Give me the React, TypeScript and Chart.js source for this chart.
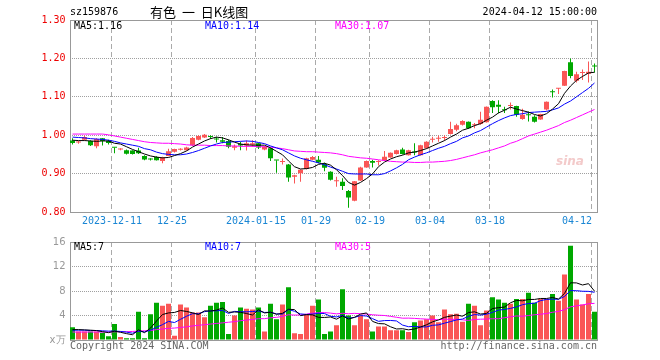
import React, { useEffect, useRef } from 'react';
import { Chart, registerables } from 'chart.js';

Chart.register(...registerables);

// ---------- data ----------
const dates = [
  '2023-11-30','2023-12-01','2023-12-04','2023-12-05','2023-12-06','2023-12-07','2023-12-08',
  '2023-12-11','2023-12-12','2023-12-13','2023-12-14','2023-12-15',
  '2023-12-18','2023-12-19','2023-12-20','2023-12-21','2023-12-22',
  '2023-12-25','2023-12-26','2023-12-27','2023-12-28','2023-12-29',
  '2024-01-02','2024-01-03','2024-01-04','2024-01-05',
  '2024-01-08','2024-01-09','2024-01-10','2024-01-11','2024-01-12',
  '2024-01-15','2024-01-16','2024-01-17','2024-01-18','2024-01-19',
  '2024-01-22','2024-01-23','2024-01-24','2024-01-25','2024-01-26',
  '2024-01-29','2024-01-30','2024-01-31','2024-02-01','2024-02-02',
  '2024-02-05','2024-02-06','2024-02-07','2024-02-08',
  '2024-02-19','2024-02-20','2024-02-21','2024-02-22','2024-02-23',
  '2024-02-26','2024-02-27','2024-02-28','2024-02-29','2024-03-01',
  '2024-03-04','2024-03-05','2024-03-06','2024-03-07','2024-03-08',
  '2024-03-11','2024-03-12','2024-03-13','2024-03-14','2024-03-15',
  '2024-03-18','2024-03-19','2024-03-20','2024-03-21','2024-03-22',
  '2024-03-25','2024-03-26','2024-03-27','2024-03-28','2024-03-29',
  '2024-04-01','2024-04-02','2024-04-03',
  '2024-04-08','2024-04-09','2024-04-10','2024-04-11','2024-04-12',
];

const opens = [
  0.986,0.981,0.988,0.985,0.971,0.992,0.985,0.968,0.963,0.961,
  0.960,0.960,0.946,0.938,0.943,0.933,0.946,0.957,0.962,0.961,
  0.974,0.988,0.994,0.996,0.990,0.987,0.985,0.967,0.977,0.973,
  0.975,0.979,0.963,0.966,0.935,0.930,0.924,0.892,0.901,0.912,
  0.936,0.936,0.925,0.905,0.880,0.879,0.855,0.829,0.882,0.916,
  0.933,0.930,0.934,0.942,0.951,0.963,0.948,0.956,0.948,0.966,
  0.988,0.991,0.993,1.003,1.014,1.027,1.035,1.026,1.029,1.034,
  1.089,1.079,1.066,1.076,1.076,1.042,1.054,1.048,1.041,1.067,
  1.114,1.121,1.129,1.190,1.142,1.162,1.160,1.181,
];
const highs = [
  0.992,0.985,0.999,0.987,0.992,0.993,0.988,0.968,0.966,0.963,
  0.961,0.967,0.948,0.940,0.945,0.944,0.965,0.965,0.966,0.970,
  0.995,1.000,1.003,1.000,0.996,0.995,0.988,0.976,0.983,0.986,
  0.987,0.980,0.972,0.968,0.935,0.939,0.925,0.897,0.911,0.941,
  0.946,0.946,0.928,0.906,0.892,0.888,0.857,0.881,0.918,0.934,
  0.936,0.935,0.959,0.955,0.962,0.967,0.962,0.979,0.975,0.984,
  0.996,0.999,1.000,1.035,1.030,1.039,1.036,1.032,1.061,1.075,
  1.091,1.091,1.074,1.085,1.077,1.069,1.062,1.052,1.056,1.088,
  1.119,1.123,1.168,1.200,1.165,1.171,1.192,1.187,
];
const lows = [
  0.976,0.978,0.986,0.972,0.966,0.973,0.976,0.953,0.961,0.950,
  0.950,0.951,0.935,0.934,0.934,0.927,0.945,0.955,0.960,0.960,
  0.972,0.987,0.993,0.990,0.981,0.979,0.966,0.961,0.961,0.960,
  0.970,0.964,0.961,0.933,0.902,0.924,0.879,0.874,0.879,0.911,
  0.935,0.927,0.906,0.882,0.866,0.857,0.811,0.828,0.881,0.915,
  0.916,0.921,0.933,0.941,0.950,0.950,0.947,0.948,0.947,0.965,
  0.981,0.983,0.986,1.002,1.010,1.025,1.016,1.018,1.027,1.033,
  1.058,1.057,1.058,1.067,1.048,1.040,1.036,1.033,1.040,1.064,
  1.098,1.107,1.128,1.148,1.137,1.144,1.137,1.163,
];
const closes = [
  0.980,0.982,0.995,0.974,0.990,0.985,0.980,0.967,0.964,0.952,
  0.951,0.953,0.937,0.937,0.935,0.942,0.958,0.964,0.963,0.968,
  0.993,0.998,1.001,0.995,0.989,0.983,0.970,0.971,0.973,0.979,
  0.979,0.968,0.970,0.940,0.934,0.931,0.890,0.896,0.910,0.940,
  0.943,0.929,0.915,0.884,0.881,0.868,0.838,0.880,0.916,0.933,
  0.928,0.931,0.944,0.954,0.961,0.951,0.961,0.955,0.974,0.983,
  0.989,0.992,0.994,1.016,1.026,1.037,1.018,1.028,1.040,1.074,
  1.073,1.074,1.065,1.077,1.053,1.053,1.052,1.035,1.055,1.087,
  1.112,1.122,1.167,1.154,1.159,1.163,1.165,1.179,
];

const ma5 = [
  0.987,0.986,0.986,0.985,0.984,0.985,0.985,0.979,0.977,0.970,
  0.963,0.957,0.951,0.946,0.943,0.941,0.942,0.947,0.952,0.959,
  0.969,0.977,0.985,0.991,0.995,0.993,0.988,0.982,0.977,0.975,
  0.974,0.974,0.974,0.967,0.958,0.949,0.933,0.918,0.912,0.913,
  0.916,0.924,0.927,0.922,0.910,0.895,0.877,0.870,0.877,0.887,
  0.899,0.918,0.930,0.938,0.944,0.948,0.954,0.956,0.960,0.965,
  0.972,0.979,0.986,0.995,1.003,1.013,1.018,1.025,1.030,1.039,
  1.047,1.058,1.065,1.073,1.068,1.064,1.060,1.054,1.050,1.056,
  1.068,1.082,1.109,1.128,1.143,1.153,1.162,1.164,
];
const ma10 = [
  0.995,0.994,0.993,0.991,0.990,0.989,0.987,0.984,0.980,0.977,
  0.974,0.971,0.965,0.962,0.956,0.952,0.950,0.949,0.949,0.951,
  0.955,0.960,0.966,0.972,0.977,0.981,0.982,0.983,0.984,0.985,
  0.984,0.981,0.978,0.972,0.967,0.962,0.954,0.946,0.940,0.936,
  0.932,0.928,0.923,0.917,0.912,0.906,0.900,0.899,0.899,0.899,
  0.897,0.897,0.900,0.907,0.915,0.924,0.936,0.943,0.949,0.954,
  0.960,0.966,0.971,0.978,0.984,0.993,0.998,1.006,1.012,1.021,
  1.030,1.038,1.045,1.051,1.054,1.056,1.059,1.060,1.061,1.062,
  1.066,1.071,1.081,1.089,1.100,1.111,1.122,1.136,
];
const ma30 = [
  1.003,1.003,1.003,1.003,1.003,1.003,1.001,0.998,0.995,0.992,
  0.989,0.986,0.983,0.981,0.980,0.979,0.979,0.978,0.977,0.975,
  0.974,0.974,0.974,0.973,0.973,0.973,0.972,0.972,0.971,0.971,
  0.971,0.970,0.970,0.969,0.967,0.965,0.962,0.959,0.958,0.957,
  0.957,0.956,0.955,0.954,0.952,0.949,0.945,0.943,0.941,0.940,
  0.938,0.936,0.934,0.932,0.931,0.930,0.930,0.929,0.929,0.930,
  0.930,0.931,0.932,0.934,0.937,0.941,0.945,0.949,0.954,0.958,
  0.962,0.967,0.972,0.979,0.984,0.991,0.998,1.003,1.008,1.013,
  1.019,1.025,1.033,1.039,1.046,1.053,1.060,1.067,
];

// volume in 万
const volumes = [
  2.1,1.4,1.4,1.4,1.4,1.2,0.6,2.6,0.5,0.3,
  0.3,4.6,0.3,4.2,6.1,5.6,5.9,0.7,5.8,5.3,
  4.5,4.5,3.7,5.6,6.1,6.2,1.0,4.0,5.3,5.1,
  5.0,5.3,1.4,5.9,3.4,5.8,8.6,1.1,1.0,4.2,
  5.6,6.6,1.0,1.4,2.4,8.3,4.0,2.4,4.0,3.4,
  1.4,2.2,2.2,1.6,1.6,1.6,1.3,2.9,3.2,3.4,
  4.0,2.9,5.0,4.2,4.3,3.0,5.9,5.6,2.4,4.8,
  7.0,6.6,6.1,5.9,6.7,6.7,7.7,6.1,6.7,6.7,
  7.5,6.4,10.7,15.4,6.6,5.8,7.5,4.6,
];
const volMa5 = [
  1.7,1.7,1.65,1.6,1.54,1.36,1.20,1.44,1.26,1.04,
  0.86,1.66,1.20,1.94,3.10,4.16,4.42,4.50,4.82,4.66,
  4.44,4.16,4.76,4.72,4.88,5.22,4.52,4.58,4.52,4.32,
  4.08,4.94,4.42,4.54,4.20,4.36,5.02,4.96,3.98,4.14,
  4.10,3.70,3.68,3.76,3.40,3.94,3.42,3.70,4.22,4.42,
  3.04,2.68,2.64,2.16,1.80,1.84,1.66,1.80,2.12,2.48,
  2.96,3.28,3.70,3.90,4.08,3.88,4.48,4.60,4.24,4.34,
  5.14,5.28,5.38,6.08,6.46,6.40,6.62,6.62,6.78,6.78,
  6.94,6.68,7.60,9.34,9.32,8.98,9.20,7.98,
];
const volMa10 = [
  1.6,1.6,1.6,1.55,1.55,1.5,1.45,1.45,1.4,1.29,
  1.11,1.43,1.32,1.60,2.07,2.51,3.04,2.85,3.38,3.88,
  4.30,4.29,4.63,4.77,4.77,4.83,4.34,4.67,4.62,4.60,
  4.65,4.73,4.50,4.53,4.26,4.22,4.98,4.69,4.26,4.17,
  4.23,4.36,4.32,3.87,3.77,4.02,3.56,3.69,3.99,3.91,
  3.49,3.05,3.17,3.19,3.11,2.44,2.17,2.22,2.14,2.14,
  2.40,2.47,2.75,3.01,3.28,3.42,3.88,4.15,4.07,4.21,
  4.51,4.88,4.99,5.16,5.40,5.77,5.95,6.00,6.43,6.62,
  6.67,6.65,7.11,8.06,8.05,7.96,7.94,7.79,
];
const volMa30 = [
  1.3,1.3,1.3,1.3,1.3,1.3,1.3,1.35,1.35,1.35,
  1.4,1.45,1.5,1.55,1.7,1.8,1.9,1.95,2.05,2.15,
  2.3,2.4,2.5,2.6,2.7,2.8,2.9,3.0,3.15,3.26,
  3.35,3.48,3.48,3.63,3.70,3.85,4.12,4.07,4.09,4.22,
  4.39,4.46,4.48,4.39,4.27,4.36,4.29,4.35,4.29,4.23,
  4.12,4.05,4.00,3.86,3.71,3.56,3.57,3.53,3.46,3.41,
  3.37,3.29,3.41,3.36,3.39,3.29,3.20,3.35,3.40,3.42,
  3.47,3.47,3.64,3.79,3.93,3.88,4.00,4.12,4.21,4.32,
  4.53,4.67,4.95,5.41,5.58,5.72,5.92,5.98,
];

const tickDates = ['2023-12-11','2023-12-25','2024-01-15','2024-01-29','2024-02-19','2024-03-04','2024-03-18','2024-04-12'];
const tickLabels = ['2023-12-11','12-25','2024-01-15','01-29','02-19','03-04','03-18','04-12'];

const priceLegend = ['MA5:1.16', 'MA10:1.14', 'MA30:1.07'];
const volLegend = ['MA5:7', 'MA10:7', 'MA30:5'];
const titleCode = 'sz159876';
const titleText = '有色 一 日K线图';
const titleTime = '2024-04-12 15:00:00';

// ---------- styles ----------
const UP = '#fa5656';
const DOWN = '#00a800';
const C_MA5 = '#000000';
const C_MA10 = '#0000ff';
const C_MA30 = '#ff00ff';
const XLABEL = '#1a86d4';
const MONO = '"DejaVu Sans Mono", monospace';

const framePlugin = {
  id: 'frame',
  beforeDatasetsDraw(chart: any) {
    const { ctx, chartArea: a } = chart;
    ctx.save();
    ctx.strokeStyle = '#999999';
    ctx.lineWidth = 1;
    ctx.setLineDash([]);
    const l = Math.round(a.left) + 0.5;
    const r = Math.floor(a.right) + 0.5;
    const t = Math.round(a.top) + 0.5;
    const b = Math.round(a.bottom) + 0.5;
    ctx.strokeRect(l, t, r - l, b - t);
    ctx.restore();
  },
};

const xLabelPlugin = {
  id: 'xlabels',
  afterDraw(chart: any) {
    const xs = chart.scales.x;
    const { ctx, chartArea } = chart;
    const half = (xs.getPixelForValue(1) - xs.getPixelForValue(0)) / 2;
    ctx.save();
    ctx.font = '10px ' + MONO;
    ctx.fillStyle = XLABEL;
    ctx.textBaseline = 'middle';
    const y = chartArea.bottom + 9;
    tickDates.forEach((d, k) => {
      const idx = dates.indexOf(d);
      const x = Math.round(xs.getPixelForValue(idx) - half);
      const w = ctx.measureText(tickLabels[k]).width;
      ctx.textAlign = x + w / 2 > chartArea.right ? 'right' : 'center';
      ctx.fillText(tickLabels[k], x, y);
    });
    ctx.restore();
  },
};

function lineDs(label: string, data: number[], color: string) {
  return {
    type: 'line' as const,
    label,
    data,
    borderColor: color,
    backgroundColor: color,
    borderWidth: 1,
    pointRadius: 0,
    tension: 0,
    fill: false,
    order: 0,
  };
}

export default function App() {
  const priceRef = useRef<HTMLCanvasElement>(null);
  const volRef = useRef<HTMLCanvasElement>(null);

  useEffect(() => {
    const colors = dates.map((_, i) => (closes[i] >= opens[i] ? UP : DOWN));
    const tickIdx = new Set(tickDates.map((d) => dates.indexOf(d)));
    const makeX = () => ({
      type: 'category' as const,
      offset: true,
      grid: {
        offset: true,
        drawTicks: false,
        lineWidth: 1,
        color: (c: any) => (tickIdx.has(c.index) ? '#aaaaaa' : 'rgba(0,0,0,0)'),
      },
      border: { display: false, dash: [5, 3] },
      ticks: { display: false, autoSkip: false },
      afterFit: (s: any) => { s.height = 20; },
    });

    const price = new Chart(priceRef.current!, {
      type: 'bar',
      data: {
        labels: dates,
        datasets: [
          lineDs('MA5', ma5, C_MA5),
          lineDs('MA10', ma10, C_MA10),
          lineDs('MA30', ma30, C_MA30),
          {
            type: 'bar',
            label: 'body',
            data: dates.map((_, i) => [opens[i], closes[i]]),
            backgroundColor: colors,
            borderWidth: 0,
            barThickness: 5,
            minBarLength: 1,
            grouped: false,
            inflateAmount: 0,
            order: 2,
          } as any,
          {
            type: 'bar',
            label: 'wick',
            data: dates.map((_, i) => [lows[i], highs[i]]),
            backgroundColor: colors,
            borderWidth: 0,
            barThickness: 1,
            grouped: false,
            inflateAmount: 0,
            order: 3,
          } as any,
        ],
      },
      options: {
        animation: false,
        responsive: false,
        events: [],
        layout: { padding: { left: 0, right: 62.5, top: 20, bottom: 0 } },
        plugins: { legend: { display: false }, tooltip: { enabled: false } },
        scales: {
          x: makeX() as any,
          y: {
            type: 'linear',
            min: 0.8,
            max: 1.3,
            afterFit: (s: any) => { s.width = 69.5; },
            ticks: {
              stepSize: 0.1,
              padding: 4,
              color: '#ee0000',
              font: { family: MONO, size: 10 },
              callback: (v: any) => Number(v).toFixed(2),
            },
            grid: { color: '#a0a0a0', drawTicks: false, lineWidth: 1 },
            border: { display: false, dash: [1, 1] },
          } as any,
        },
      },
      plugins: [framePlugin, xLabelPlugin],
    } as any);

    const vol = new Chart(volRef.current!, {
      type: 'bar',
      data: {
        labels: dates,
        datasets: [
          lineDs('MA5', volMa5, C_MA5),
          lineDs('MA10', volMa10, C_MA10),
          lineDs('MA30', volMa30, C_MA30),
          {
            type: 'bar',
            label: 'vol',
            data: volumes,
            backgroundColor: colors,
            borderWidth: 0,
            barThickness: 5,
            grouped: false,
            inflateAmount: 0,
            order: 2,
          } as any,
        ],
      },
      options: {
        animation: false,
        responsive: false,
        events: [],
        layout: { padding: { left: 0, right: 62.5, top: 8, bottom: 0 } },
        plugins: { legend: { display: false }, tooltip: { enabled: false } },
        scales: {
          x: makeX() as any,
          y: {
            type: 'linear',
            min: 0,
            max: 16,
            afterFit: (s: any) => { s.width = 69.5; },
            ticks: {
              stepSize: 4,
              padding: 4,
              color: '#999999',
              font: { family: '"DejaVu Sans", sans-serif', size: 10 },
              callback: (v: any) => (Number(v) === 0 ? 'x万' : String(v)),
            },
            grid: { color: '#a0a0a0', drawTicks: false, lineWidth: 1 },
            border: { display: false, dash: [1, 1] },
          } as any,
        },
      },
      plugins: [framePlugin],
    } as any);

    return () => {
      price.destroy();
      vol.destroy();
    };
  }, []);

  const txt = (extra: any): any => ({
    position: 'absolute',
    fontFamily: MONO,
    fontSize: 10,
    lineHeight: '12px',
    whiteSpace: 'pre',
    margin: 0,
    ...extra,
  });

  const legendColors = [C_MA5, C_MA10, C_MA30];
  const legendLefts = [74, 205, 335];

  return (
    <div style={{ position: 'fixed', left: 0, top: 0, width: 660, height: 360, background: '#ffffff', overflow: 'hidden' }}>
      <canvas ref={priceRef} width={660} height={232} style={{ position: 'absolute', left: 0, top: 0, display: 'block' }} />
      <canvas ref={volRef} width={660} height={128} style={{ position: 'absolute', left: 0, top: 232, display: 'block' }} />

      <div style={txt({ left: 70, top: 6, color: '#000' })}>{titleCode}</div>
      <div style={txt({ left: 150, top: 4, color: '#000', fontFamily: '"Noto Sans CJK SC", sans-serif', fontSize: 13, lineHeight: '16px', wordSpacing: 3 })}>{titleText}</div>
      <div style={txt({ right: 63, top: 6, color: '#000' })}>{titleTime}</div>

      {priceLegend.map((t, i) => (
        <div key={'p' + i} style={txt({ left: legendLefts[i], top: 20, color: legendColors[i] })}>{t}</div>
      ))}
      {volLegend.map((t, i) => (
        <div key={'v' + i} style={txt({ left: legendLefts[i], top: 241, color: legendColors[i] })}>{t}</div>
      ))}

      <div style={txt({ left: 556, top: 155, color: '#f3caca', fontFamily: '"DejaVu Sans", sans-serif', fontSize: 12, fontStyle: 'italic', fontWeight: 'bold' })}>sina</div>

      <div style={txt({ left: 70, top: 340, color: '#666' })}>Copyright 2024 SINA.COM</div>
      <div style={txt({ right: 63, top: 340, color: '#666' })}>http://finance.sina.com.cn</div>
    </div>
  );
}
